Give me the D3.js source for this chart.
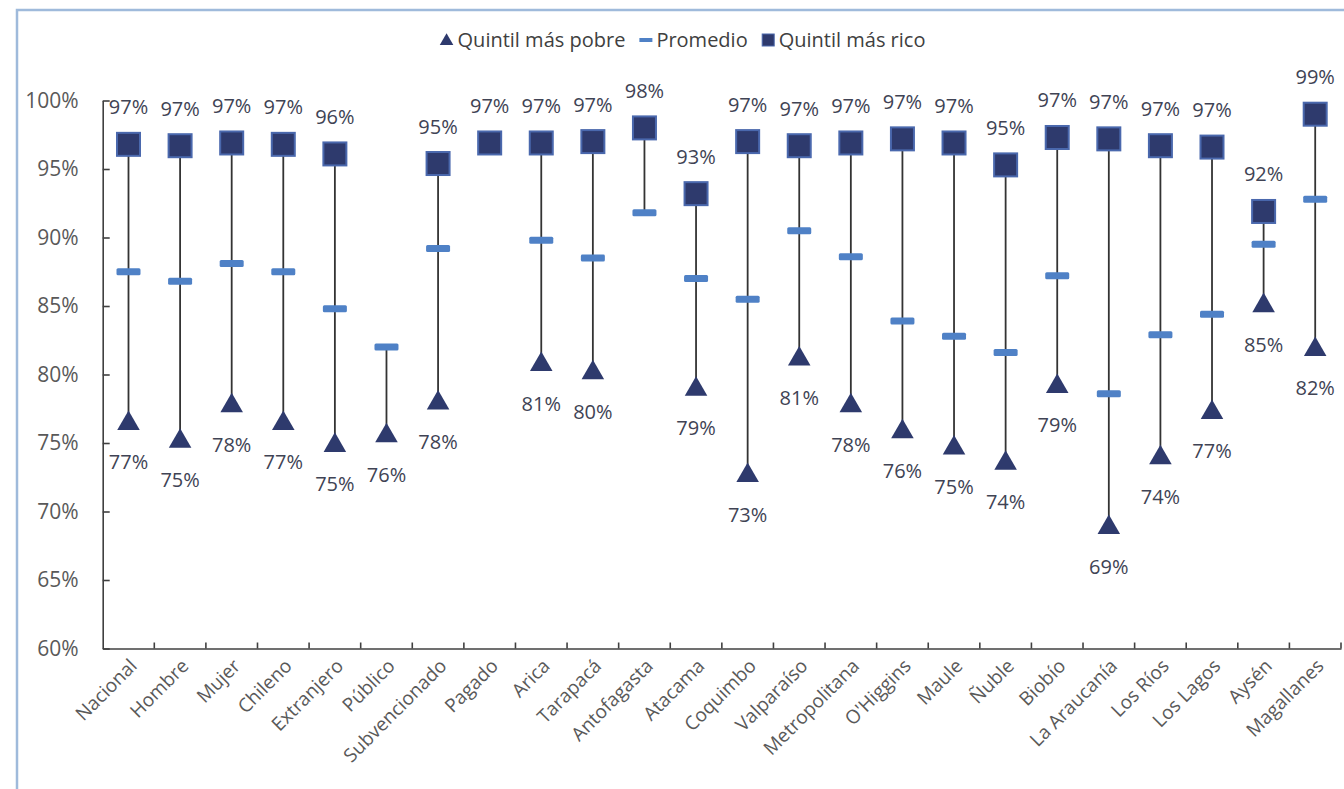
<!DOCTYPE html>
<html>
<head>
<meta charset="utf-8">
<script src="https://cdn.jsdelivr.net/npm/d3@7"></script>
<style>
  html, body { margin: 0; padding: 0; background: #ffffff; }
  svg { display: block; font-family: "Open Sans", "DejaVu Sans", sans-serif; }
</style>
</head>
<body>
<svg id="chart" width="1344" height="789"></svg>
<script>
const categories = ["Nacional","Hombre","Mujer","Chileno","Extranjero","Público","Subvencionado","Pagado","Arica","Tarapacá","Antofagasta","Atacama","Coquimbo","Valparaíso","Metropolitana","O'Higgins","Maule","Ñuble","Biobío","La Araucanía","Los Ríos","Los Lagos","Aysén","Magallanes"];
const quintilPobre = [76.5,75.2,77.8,76.5,74.9,75.6,78.0,null,80.8,80.2,null,79.0,72.7,81.2,77.8,75.9,74.7,73.6,79.2,68.9,74.0,77.3,85.1,81.9];
const promedio     = [87.5,86.8,88.1,87.5,84.8,82.0,89.2,null,89.8,88.5,91.8,87.0,85.5,90.5,88.6,83.9,82.8,81.6,87.2,78.6,82.9,84.4,89.5,92.8];
const quintilRico  = [96.8,96.7,96.9,96.8,96.1,null,95.4,96.9,96.9,97.0,98.0,93.2,97.0,96.7,96.9,97.2,96.9,95.3,97.3,97.2,96.7,96.6,91.9,99.0];
const yTicks = [60,65,70,75,80,85,90,95,100];
const legendLabels = ["Quintil más pobre","Promedio","Quintil más rico"];

const svg = d3.select("#chart");
const navy = "#2e3a6d", navyEdge = "#4a68ad", dash = "#4f81c6", txt = "#404354", axisTxt = "#595959";

// frame (cropped box)
svg.append("path").attr("d","M17,789 L17,10 L1344,10")
  .attr("fill","none").attr("stroke","#9fbadb").attr("stroke-width",2.5);

const x = d3.scaleBand().domain(categories).range([102.7, 1341]).padding(0);
const y = d3.scaleLinear().domain([60,100]).range([648.5, 100.5]);
const cx = c => x(c) + x.bandwidth()/2;

// y axis
const yAxis = d3.axisLeft(y).tickValues(yTicks).tickFormat(d => d + "%")
  .tickSizeInner(-7).tickSizeOuter(0).tickPadding(24);
const gy = svg.append("g").attr("transform","translate(102.7,0)").call(yAxis);
gy.select(".domain").attr("stroke","#404040").attr("stroke-width",1.6);
gy.selectAll(".tick line").attr("stroke","#404040").attr("stroke-width",1.6);
gy.selectAll(".tick text").attr("fill",axisTxt).style("font-size","21px")
  .style("font-family","'Open Sans', sans-serif");

// x axis
const xAxis = d3.axisBottom(x).tickSize(0).tickSizeOuter(0);
const gx = svg.append("g").attr("transform","translate(0,648.5)").call(xAxis);
gx.select(".domain").attr("stroke","#404040").attr("stroke-width",1.6);
gx.selectAll(".tick text").attr("fill",axisTxt).style("font-size","19px")
  .style("font-family","'Open Sans', sans-serif")
  .attr("y",0).attr("dy","0.35em").attr("text-anchor","end")
  .attr("transform","translate(5,14) rotate(-45)");
const bounds = categories.map(c => x(c)).concat([x.range()[1]]);
gx.selectAll("line.bt").data(bounds.slice(1)).enter().append("line").attr("class","bt")
  .attr("x1",d=>d).attr("x2",d=>d).attr("y1",0).attr("y2",-6)
  .attr("stroke","#404040").attr("stroke-width",1.6);

// data rows
const rows = categories.map((c,i) => ({c, lo: quintilPobre[i], mid: promedio[i], hi: quintilRico[i]}));

// high-low lines
svg.append("g").selectAll("line").data(rows.filter(r => {
  const v = [r.lo,r.mid,r.hi].filter(d=>d!=null); return v.length>1; }))
  .enter().append("line")
  .attr("x1", r=>cx(r.c)).attr("x2", r=>cx(r.c))
  .attr("y1", r=>y(d3.max([r.lo,r.mid,r.hi].filter(d=>d!=null))))
  .attr("y2", r=>y(d3.min([r.lo,r.mid,r.hi].filter(d=>d!=null))))
  .attr("stroke","#333333").attr("stroke-width",1.8);

// promedio dashes
svg.append("g").selectAll("rect").data(rows.filter(r=>r.mid!=null)).enter().append("rect")
  .attr("x", r=>cx(r.c)-12).attr("y", r=>y(r.mid)-3.5).attr("width",24).attr("height",7)
  .attr("rx",1.5).attr("fill",dash);

// triangles
const tri = d3.symbol().type(d3.symbolTriangle).size(220);
svg.append("g").selectAll("path").data(rows.filter(r=>r.lo!=null)).enter().append("path")
  .attr("d", tri).attr("transform", r=>`translate(${cx(r.c)},${y(r.lo)+1})`)
  .attr("fill",navy);

// squares
svg.append("g").selectAll("rect").data(rows.filter(r=>r.hi!=null)).enter().append("rect")
  .attr("x", r=>cx(r.c)-11.5).attr("y", r=>y(r.hi)-11.5).attr("width",23).attr("height",23)
  .attr("fill",navy).attr("stroke",navyEdge).attr("stroke-width",2);

// labels
const fmt = v => Math.round(v) + "%";
svg.append("g").selectAll("text").data(rows.filter(r=>r.hi!=null)).enter().append("text")
  .attr("x", r=>cx(r.c)).attr("y", r=>y(r.hi)-30).attr("text-anchor","middle")
  .attr("fill",txt).style("font-size","20px").text(r=>fmt(r.hi));
svg.append("g").selectAll("text").data(rows.filter(r=>r.lo!=null)).enter().append("text")
  .attr("x", r=>cx(r.c)).attr("y", r=>y(r.lo)+47).attr("text-anchor","middle")
  .attr("fill",txt).style("font-size","20px").text(r=>fmt(r.lo));

// legend (flow layout, centred)
const lg = svg.append("g").attr("transform","translate(0,40)");
const items = [];
let cur = 0;
legendLabels.forEach((lab, i) => {
  const g = lg.append("g");
  if (i === 0) g.append("path").attr("d", d3.symbol().type(d3.symbolTriangle).size(80)).attr("transform","translate(6,1)").attr("fill",navy);
  if (i === 1) g.append("rect").attr("x",0).attr("y",-2).attr("width",13).attr("height",4).attr("fill",dash);
  if (i === 2) g.append("rect").attr("x",0.5).attr("y",-6).attr("width",12).attr("height",12).attr("fill",navy).attr("stroke",navyEdge).attr("stroke-width",1);
  const t = g.append("text").attr("x",17).attr("y",0).attr("dy","0.35em").attr("fill","#404040")
    .style("font-size","20px").text(lab);
  const w = 17 + t.node().getComputedTextLength();
  g.attr("transform", `translate(${cur},0)`);
  cur += w + 14;
});
const totalW = cur - 14;
lg.attr("transform", `translate(${683 - totalW/2},40)`);
</script>
</body>
</html>
